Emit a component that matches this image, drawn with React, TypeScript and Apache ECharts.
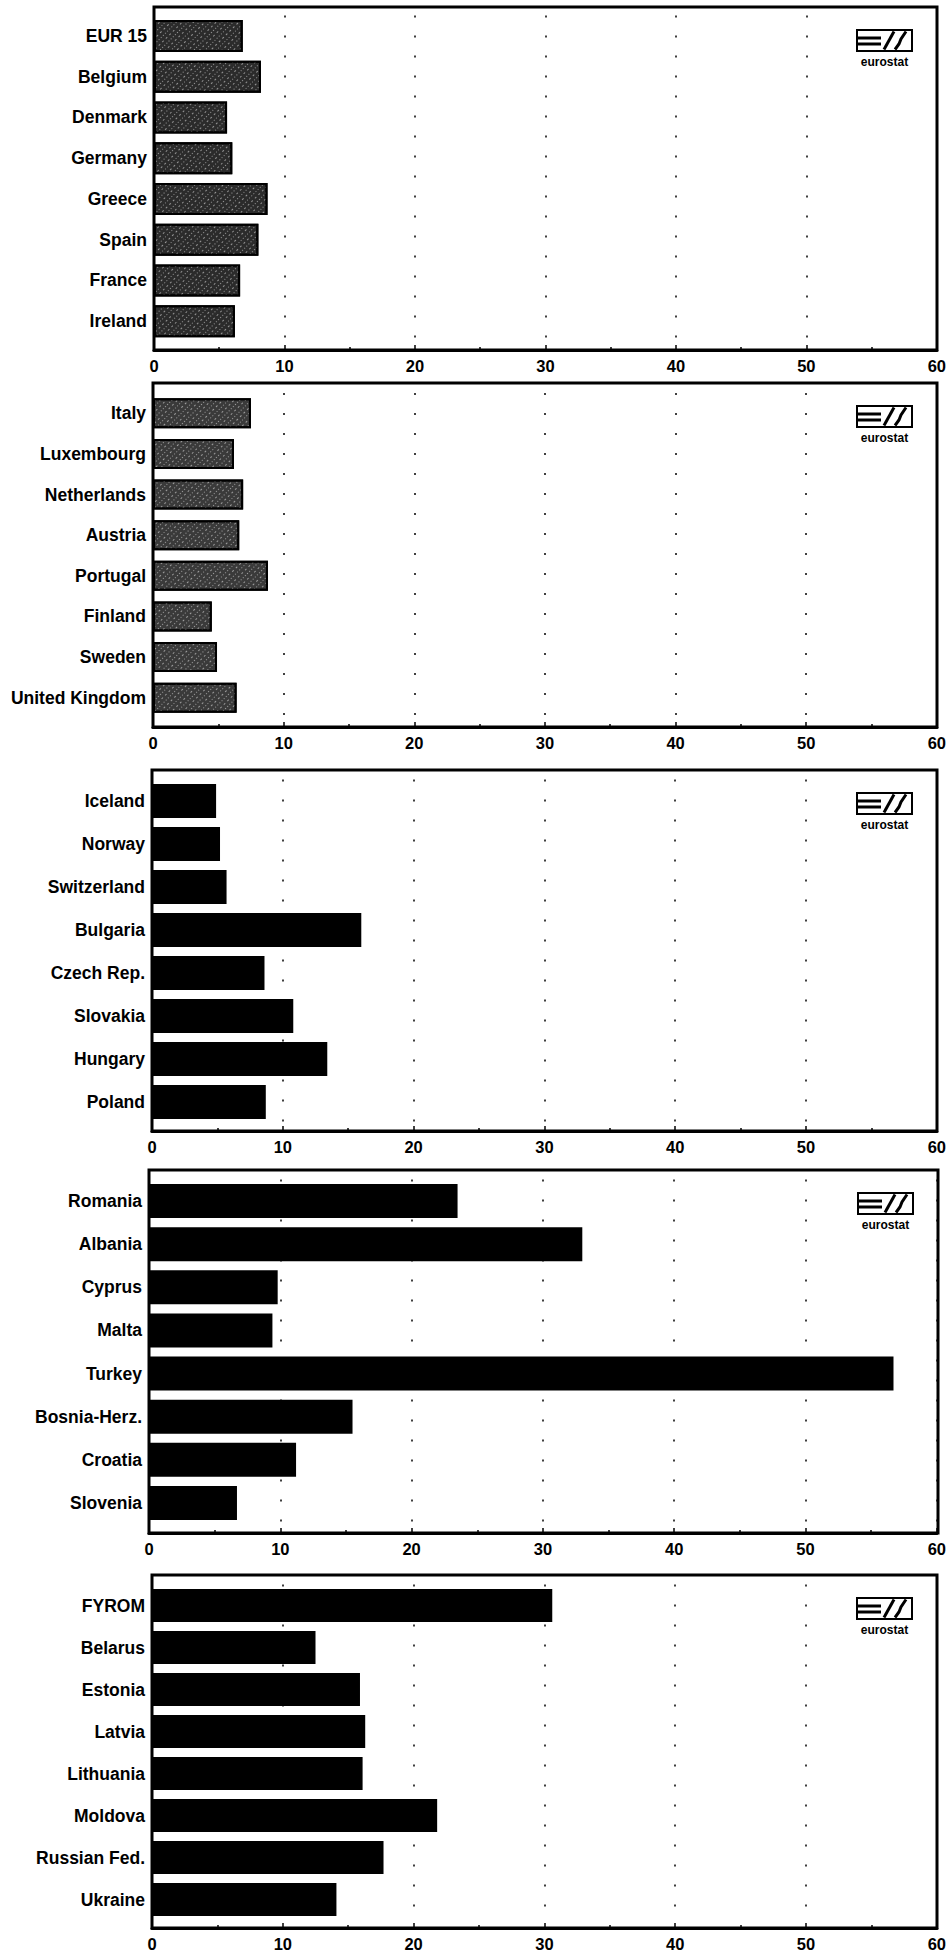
import React, { useEffect, useRef } from "react";
import * as echarts from "echarts";

const P1_CATS = ["EUR 15", "Belgium", "Denmark", "Germany", "Greece", "Spain", "France", "Ireland"];
const P1_VALS = [6.8, 8.2, 5.6, 6.0, 8.7, 8.0, 6.6, 6.2];

const P2_CATS = ["Italy", "Luxembourg", "Netherlands", "Austria", "Portugal", "Finland", "Sweden", "United Kingdom"];
const P2_VALS = [7.5, 6.2, 6.9, 6.6, 8.8, 4.5, 4.9, 6.4];

const P3_CATS = ["Iceland", "Norway", "Switzerland", "Bulgaria", "Czech Rep.", "Slovakia", "Hungary", "Poland"];
const P3_VALS = [4.9, 5.2, 5.7, 16.0, 8.6, 10.8, 13.4, 8.7];

const P4_CATS = ["Romania", "Albania", "Cyprus", "Malta", "Turkey", "Bosnia-Herz.", "Croatia", "Slovenia"];
const P4_VALS = [23.5, 33.0, 9.8, 9.4, 56.7, 15.5, 11.2, 6.7];

const P5_CATS = ["FYROM", "Belarus", "Estonia", "Latvia", "Lithuania", "Moldova", "Russian Fed.", "Ukraine"];
const P5_VALS = [30.6, 12.5, 15.9, 16.3, 16.1, 21.8, 17.7, 14.1];

const X_MIN = 0;
const X_MAX = 60;
const X_STEP = 10;

const FONT = "'Liberation Sans', Arial, Helvetica, sans-serif";

const PANELS = [
  { cats: P1_CATS, vals: P1_VALS, l: 154, r: 937, t: 7, b: 350, gt: 15.5, gb: 341.5, bw: 32, tex: true, col: "#2b2b2b" },
  { cats: P2_CATS, vals: P2_VALS, l: 153, r: 937, t: 383, b: 727, gt: 393, gb: 718, bw: 30, tex: true, col: "#3a3a3a" },
  { cats: P3_CATS, vals: P3_VALS, l: 152, r: 937, t: 770, b: 1131, gt: 779.5, gb: 1123.5, bw: 34, tex: false, col: "#000" },
  { cats: P4_CATS, vals: P4_VALS, l: 149, r: 938, t: 1170, b: 1533, gt: 1179.5, gb: 1524.5, bw: 34, tex: false, col: "#000" },
  { cats: P5_CATS, vals: P5_VALS, l: 152, r: 937, t: 1575, b: 1928, gt: 1584.5, gb: 1920.5, bw: 33, tex: false, col: "#000" },
];

function logo(f: any) {
  const x0 = f.r - 80;
  const y0 = f.t + 23;
  const ls = { stroke: "#000", lineWidth: 3 };
  return {
    type: "group",
    x: x0,
    y: y0,
    z: 110,
    children: [
      { type: "rect", shape: { x: 0, y: 0, width: 55, height: 21 }, style: { fill: "#fff", stroke: "#000", lineWidth: 2 } },
      { type: "line", shape: { x1: 0, y1: 8, x2: 24, y2: 8 }, style: ls },
      { type: "line", shape: { x1: 0, y1: 14, x2: 24, y2: 14 }, style: ls },
      { type: "line", shape: { x1: 27, y1: 19.5, x2: 37, y2: 1.5 }, style: { stroke: "#000", lineWidth: 3 } },
      { type: "polyline", shape: { points: [[38, 19.5], [42, 14], [44, 9], [49, 1.5]] }, style: { stroke: "#000", lineWidth: 3, fill: "none" } },
      {
        type: "text",
        style: { text: "eurostat", x: 27.5, y: 32, align: "center", verticalAlign: "middle", font: "bold 12px " + FONT, fill: "#000" },
      },
    ],
  };
}

export default function App() {
  const ref = useRef<HTMLDivElement>(null);
  useEffect(() => {
    if (!ref.current) return;
    const chart = echarts.init(ref.current, null, { renderer: "svg" });
    const grid: any[] = [];
    const xAxis: any[] = [];
    const yAxis: any[] = [];
    const series: any[] = [];
    const graphic: any[] = [];
    PANELS.forEach((f, i) => {
      grid.push({ left: f.l, top: f.gt, width: f.r - f.l, height: f.gb - f.gt, containLabel: false });
      xAxis.push({
        gridIndex: i,
        type: "value",
        min: X_MIN,
        max: X_MAX,
        interval: X_STEP,
        offset: f.b - f.gb,
        axisLine: { show: true, lineStyle: { color: "#000", width: 3 } },
        axisTick: { show: true, inside: true, length: 5, lineStyle: { color: "#000", width: 1.5 } },
        minorTick: { show: true, splitNumber: 2, length: 3, lineStyle: { color: "#000", width: 1.5 } },
        splitLine: { show: true, lineStyle: { color: "#000", width: 1.5, type: [2, 18] } },
        axisLabel: { color: "#000", fontSize: 16.5, fontWeight: "bold", fontFamily: FONT, margin: 7 },
      });
      yAxis.push({
        gridIndex: i,
        type: "category",
        data: f.cats,
        inverse: true,
        axisLine: { show: false },
        axisTick: { show: false },
        splitLine: { show: false },
        axisLabel: { color: "#000", fontSize: 17.5, fontWeight: "bold", fontFamily: FONT, margin: 7 },
      });
      series.push({
        type: "bar",
        xAxisIndex: i,
        yAxisIndex: i,
        data: f.vals,
        barWidth: f.bw,
        silent: true,
        itemStyle: f.tex
          ? {
              color: f.col,
              borderColor: "#000",
              borderWidth: 2,
              decal: {
                symbol: "rect",
                symbolSize: 1,
                color: "rgba(255,255,255,0.5)",
                dashArrayX: [[1, 2], [2, 3]],
                dashArrayY: [1, 3],
                rotation: -Math.PI / 4,
              },
            }
          : { color: f.col },
      });
      graphic.push({
        type: "rect",
        z: 100,
        shape: { x: f.l, y: f.t, width: f.r - f.l, height: f.b - f.t },
        style: { fill: "none", stroke: "#000", lineWidth: 3 },
      });
      graphic.push(logo(f));
    });
    chart.setOption({
      animation: false,
      backgroundColor: "#fff",
      grid,
      xAxis,
      yAxis,
      series,
      graphic,
    });
    return () => chart.dispose();
  }, []);
  return <div ref={ref} style={{ position: "absolute", left: 0, top: 0, width: 949, height: 1955 }} />;
}
